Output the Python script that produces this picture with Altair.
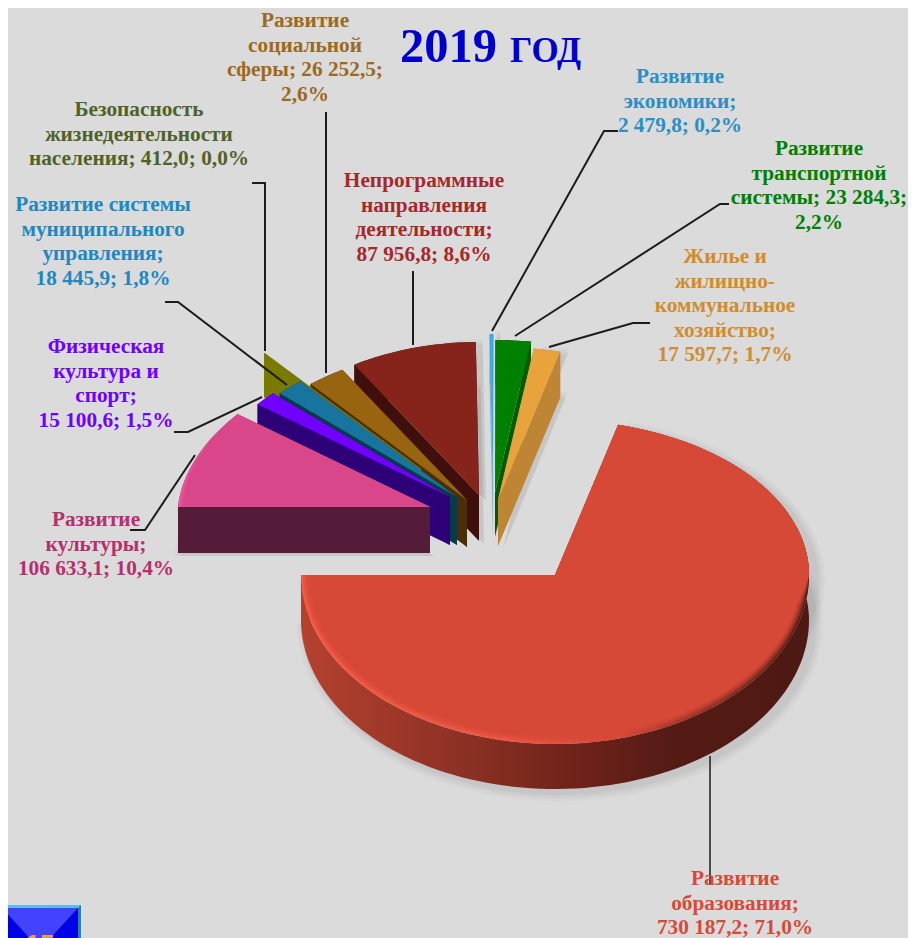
import math
import altair as alt
import pandas as pd

# ---- data ----
categories = ["Развитие образования", "Развитие культуры", "Физическая культура и спорт",
              "Развитие системы муниципального управления", "Безопасность жизнедеятельности населения",
              "Развитие социальной сферы", "Непрограммные направления деятельности",
              "Развитие экономики", "Развитие транспортной системы", "Жилье и жилищно-коммунальное хозяйство"]
values = [730187.2, 106633.1, 15100.6, 18445.9, 412.0, 26252.5, 87956.8, 2479.8, 23284.3, 17597.7]
top_colors = ["#d74937", "#d9468a", "#7000ff", "#17749f", "#777700", "#99640f", "#86241b", "#3ba9e6", "#008000", "#e8a33d"]
wall_colors = ["#8a3024", "#551c3a", "#2e0078", "#083a4a", "#7a7a00", "#4a2f08", "#3f100b", "#7fb0c4", "#005c00", "#bd8534"]
label_colors = ["#d84a38", "#b5306e", "#7000ff", "#2088c0", "#4f6228", "#9c6a1c", "#a5282a", "#2b8fc5", "#008000", "#cf8d30"]

label_lines = [
    ["Развитие", "образования;", "730 187,2; 71,0%"],
    ["Развитие", "культуры;", "106 633,1; 10,4%"],
    ["Физическая", "культура и", "спорт;", "15 100,6; 1,5%"],
    ["Развитие системы", "муниципального", "управления;", "18 445,9; 1,8%"],
    ["Безопасность", "жизнедеятельности", "населения; 412,0; 0,0%"],
    ["Развитие", "социальной", "сферы; 26 252,5;", "2,6%"],
    ["Непрограммные", "направления", "деятельности;", "87 956,8; 8,6%"],
    ["Развитие", "экономики;", "2 479,8; 0,2%"],
    ["Развитие", "транспортной", "системы; 23 284,3;", "2,2%"],
    ["Жилье и", "жилищно-", "коммунальное", "хозяйство;", "17 597,7; 1,7%"],
]

# ---- layout (page pixels) ----
M = 8
W, H = 900, 930
BG = "#dbdbdb"
label_pos = [(735, 879), (96, 520), (106, 347), (103, 205), (139, 110),
             (305, 21), (424, 181), (680, 77), (819, 149), (725, 257)]
# centre x, centre y, rx, ry back, ry front, depth, back narrowing on the left half
geom = [(555, 575, 254, 155, 169, 45, 0.0), (430, 507, 252, 153, 153, 46, 0.065), (450, 497, 252, 153, 153, 48, 0.065),
        (457, 497, 252, 153, 153, 48, 0.065), (421, 469, 252, 153, 153, 44, 0.065), (467, 500, 252, 153, 153, 47, 0.065),
        (479, 495, 252, 153, 153, 46, 0.065), (493, 487, 250, 153, 153, 51, 0.0), (495, 493, 250, 153, 153, 44, 0.0),
        (498, 500, 250, 153, 153, 46, 0.0)]
leaders = [
    [(710, 756), (710, 885)],
    [(130, 530), (145, 530), (195, 455)],
    [(174, 432), (188, 432), (262, 397)],
    [(165, 302), (178, 302), (287, 385)],
    [(252, 183), (265, 183), (265, 351)],
    [(326, 112), (326, 373)],
    [(413, 271), (413, 345)],
    [(618, 131), (604, 131), (492, 331)],
    [(729, 204), (720, 204), (515, 336)],
    [(650, 323), (633, 323), (549, 347)],
]
PROJ = dict(type="identity", scale=1, translate=[0, 0])

# ---- slice angles derive from the values ----
total = sum(values)
angles = []
a = 14.4
for v in values:
    b = a + v / total * 360
    angles.append((a, b))
    a = b


def P(x, y):
    return [x - M, y - M]


def rim(i, grow=0.0, dx=0.0, dy=0.0):
    cx, cy, rx, ryb, ryf, _, k_n = geom[i]
    a0, a1 = angles[i]
    n = max(2, int((a1 - a0) / 2))
    pts = []
    for k in range(n + 1):
        t = math.radians(a0 + (a1 - a0) * k / n)
        s, c = math.sin(t), math.cos(t)
        ry = ryb if c > 0 else ryf
        nar = 1 - k_n * c if (s < 0 and c > 0) else 1
        pts.append((cx + dx + (rx + grow) * s * nar, cy + dy - (ry + grow) * c))
    return pts


def shape(points, geom_type="Polygon"):
    coords = [P(*p) for p in points]
    if geom_type == "Polygon":
        coords = [coords + [coords[0]]]
    return {"type": "Feature", "properties": {}, "geometry": {"type": geom_type, "coordinates": coords}}


def layer(points, fill, opacity=1.0):
    return alt.Chart(alt.Data(values=[shape(points)])).mark_geoshape(
        fill=fill, fillOpacity=opacity, strokeWidth=0).project(**PROJ)


def hgrad(stops):
    return alt.LinearGradient(gradient="linear", x1=0, x2=1, y1=0, y2=0,
                              stops=[alt.GradientStop(offset=o, color=c) for o, c in stops])


def shadow(i):
    cx, cy = geom[i][0], geom[i][1]
    h = geom[i][5]
    out = []
    for g, o in ((9, 0.025), (6, 0.03), (3, 0.035)):
        r = rim(i, grow=g, dx=5, dy=h + 3)
        out.append(layer([(cx + 5, cy + h + 3)] + r, "#000000", o))
        r2 = rim(i, grow=g, dx=7, dy=6)
        out.append(layer([(cx + 7, cy + 6)] + r2, "#000000", o))
    return out


def solid(i, wall_fill=None):
    cx, cy = geom[i][0], geom[i][1]
    h = geom[i][5]
    arc = rim(i)
    wf = wall_fill or wall_colors[i]
    first, last = arc[0], arc[-1]
    return [
        layer([first, (cx, cy), (cx, cy + h), (first[0], first[1] + h)], wall_colors[i]),
        layer([last, (cx, cy), (cx, cy + h), (last[0], last[1] + h)], wall_colors[i]),
        layer(arc + [(x, y + h) for x, y in reversed(arc)], wf),
        layer([(cx, cy)] + arc, top_colors[i]),
    ]


def inset_arc(i, d):
    """Outline of a slice whose front edge is pulled in by d, fading out towards its back."""
    cx, cy, rx, ryb, ryf, _, k_n = geom[i]
    a0, a1 = angles[i]
    pts = []
    for k in range(129):
        t = math.radians(a0 + (a1 - a0) * k / 128)
        s, c = math.sin(t), math.cos(t)
        if c >= 0:
            ry = ryb
            f = max(0.0, 1 - c * 1.6) if s < 0 else 0.0
        else:
            ry = ryf
            f = 1.0 if s < 0 else min(1.0, -c * 6)
        nar = 1 - k_n * c if (s < 0 and c > 0) else 1
        pts.append((cx + (rx * nar - d * f) * s, cy - (ry - d * f) * c))
    return [(cx, cy)] + pts


layers = []
layers.append(alt.Chart(alt.Data(values=[{"a": 1}])).mark_rect(fill=BG).encode(
    x=alt.value(0), x2=alt.value(W), y=alt.value(0), y2=alt.value(H)))

draw_order = [6, 5, 4, 3, 2, 1, 7, 8, 9, 0]
for i in (6, 1, 7, 9, 0):
    layers += shadow(i)

for i in draw_order:
    if i == 0:
        wall = hgrad([(0, "#b5412f"), (0.3, "#8e3225"), (0.55, "#6e2219"), (0.72, "#551b15"), (1, "#4e1913")])
        s = solid(i, wall)
        layers += s[:3]
        layers.append(layer(inset_arc(0, 0),
                            hgrad([(0, "#f45a47"), (0.4, "#ec5744"), (0.62, "#d74937"),
                                   (0.8, "#8e3024"), (1, "#5a1d16")])))
        for d, o in ((2, 0.3), (3.5, 0.35), (5, 0.45), (6.5, 0.6), (8, 1.0)):
            layers.append(layer(inset_arc(0, d), top_colors[0], o))
    elif i == 1:
        s = solid(i)
        layers += s[:3]
        layers.append(layer(inset_arc(1, 0), hgrad([(0, "#f2569a"), (0.25, "#e54d91"), (1, "#d9468a")])))
        for d, o in ((2, 0.4), (3.5, 0.5), (5, 1.0)):
            layers.append(layer(inset_arc(1, d), top_colors[1], o))
    else:
        layers += solid(i)

# leader lines
layers.append(alt.Chart(alt.Data(values=[shape(l, "LineString") for l in leaders[1:]])).mark_geoshape(
    filled=False, stroke="#1c1c1c", strokeWidth=2).project(**PROJ))
layers.append(alt.Chart(alt.Data(values=[shape(leaders[0], "LineString")])).mark_geoshape(
    filled=False, stroke="#1c1c1c", strokeWidth=1.5).project(**PROJ))

# labels
rows = []
for lines, (lx, ly), col in zip(label_lines, label_pos, label_colors):
    for j, t in enumerate(lines):
        rows.append({"x": lx - M, "y": ly + j * 24.6 - M, "t": t, "c": col})
layers.append(alt.Chart(pd.DataFrame(rows)).mark_text(
    font="Liberation Serif", fontWeight="bold", fontSize=21.3, align="center", baseline="middle").encode(
    x=alt.X("x:Q", scale=None, axis=None), y=alt.Y("y:Q", scale=None, axis=None),
    text="t:N", color=alt.Color("c:N", scale=None, legend=None)))

# title
title_rows = [{"x": 400 - M, "y": 62 - M, "t": "2019", "s": 48.5}, {"x": 510 - M, "y": 62 - M, "t": "ГОД", "s": 35}]
layers.append(alt.Chart(pd.DataFrame(title_rows)).mark_text(
    font="Liberation Serif", fontWeight="bold", align="left", baseline="alphabetic", color="#0000cc").encode(
    x=alt.X("x:Q", scale=None, axis=None), y=alt.Y("y:Q", scale=None, axis=None),
    text="t:N", size=alt.Size("s:Q", scale=None, legend=None)))

# navigation button, bottom-left
layers.append(layer([(0, 905), (81, 905), (81, 945), (0, 945)], "#5bbcf0"))
layers.append(layer([(78, 908), (81, 905), (81, 945), (78, 945)], "#2a7fa8"))
layers.append(layer([(2, 908), (78, 908), (78, 945), (2, 945)], "#0000e6"))
layers.append(layer([(2, 908), (78, 908), (44, 945), (36, 945)], "#4343ff"))
layers.append(alt.Chart(pd.DataFrame([{"x": 40 - M, "y": 953 - M, "t": "15"}])).mark_text(
    font="Liberation Sans", fontWeight="bold", fontSize=26, align="center", baseline="alphabetic", color="#ff9a2e").encode(
    x=alt.X("x:Q", scale=None, axis=None), y=alt.Y("y:Q", scale=None, axis=None), text="t:N"))

chart = alt.layer(*layers).properties(
    width=W, height=H, padding=0, background=BG,
    autosize=alt.AutoSizeParams(type="none")
).configure_view(stroke=None)

chart.save("out.html", embed_options={"renderer": "svg", "actions": False})
